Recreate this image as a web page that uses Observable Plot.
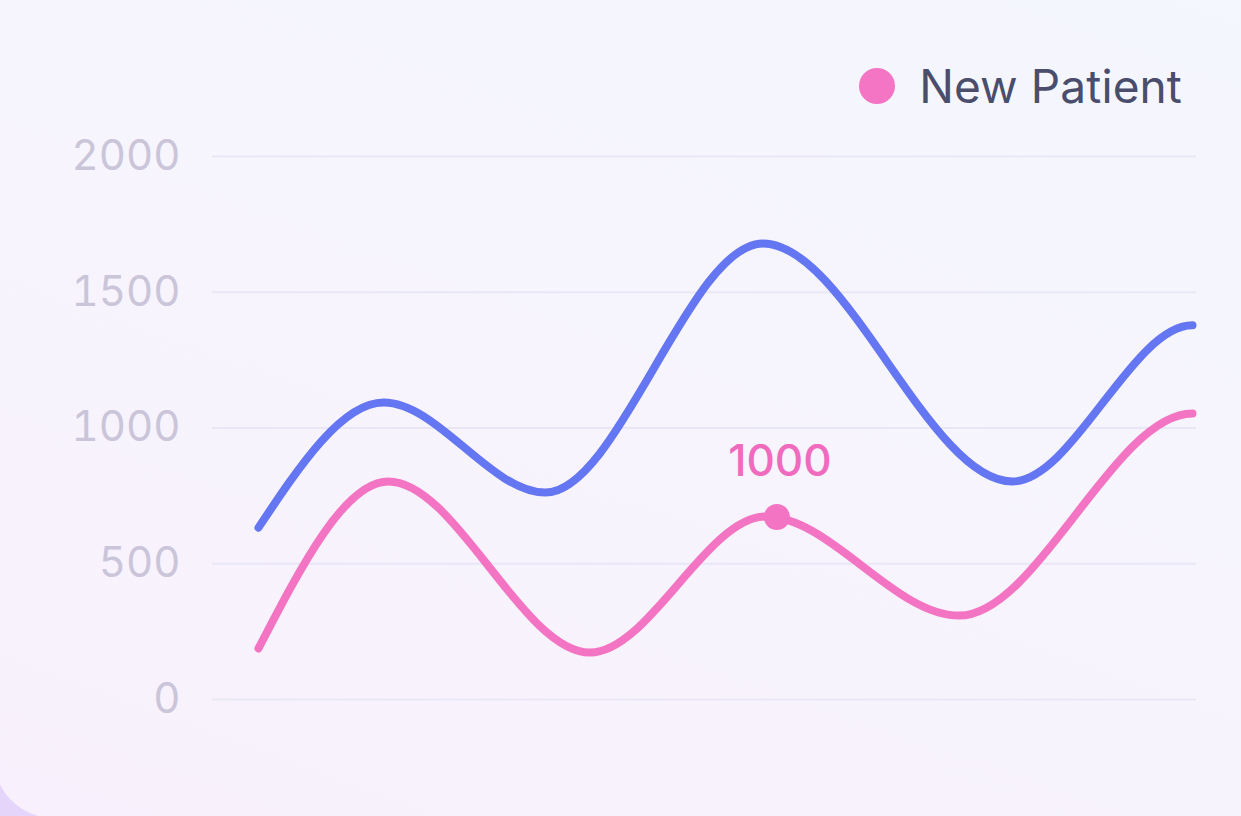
<!DOCTYPE html>
<html>
<head>
<meta charset="utf-8">
<script src="https://cdn.jsdelivr.net/npm/d3@7"></script>
<script src="https://cdn.jsdelivr.net/npm/@observablehq/plot@0.6"></script>
<style>
  html, body { margin: 0; padding: 0; width: 1241px; height: 816px; overflow: hidden; background: #e6d5fa; }
  #card {
    position: absolute; left: -6px; top: -60px; width: 1320px; height: 878px;
    border-radius: 60px;
    background: linear-gradient(20deg, #f8f1fd 0%, #f7f4fd 45%, #f4f7fd 100%);
    font-family: Inter, "Noto Sans", sans-serif;
  }
  #inner { position: absolute; left: 6px; top: 60px; width: 1241px; height: 816px; }
  #legendbar { position: relative; height: 120px; }
  #legend { position: absolute; top: 62px; right: 59px; height: 48px; display: flex; align-items: center; gap: 24px; }
  #legend .sw { width: 36px; height: 36px; border-radius: 50%; background: #f575c5; }
  #legend .lb { font-size: 46px; color: #4a4d6b; letter-spacing: 0.1px; }
  svg { display: block; }
</style>
</head>
<body>
<div id="card"><div id="inner">
  <div id="legendbar"><div id="legend"><div class="sw"></div><div class="lb">New Patient</div></div></div>
  <div id="chart"></div>
</div></div>
<script>
// Series (x is position along the timeline, 0–100)
const blueX = [0, 13.4, 30.7, 54.0, 80.7, 100];
const blueY = [633, 1094, 762, 1680, 803, 1378];
const pinkX = [0, 13.9, 35.5, 54.3, 75.0, 100];
const pinkY = [188, 803, 173, 674, 309, 1053];
const yTicks = [0, 500, 1000, 1500, 2000];
const highlightX = [55.5];
const highlightY = [672];
const highlightLabel = ["1000"];

const blue = blueX.map((x, i) => ({x, y: blueY[i]}));
const pink = pinkX.map((x, i) => ({x, y: pinkY[i]}));
const hl = highlightX.map((x, i) => ({x, y: highlightY[i], label: highlightLabel[i]}));

// Monotone-x style cubic curve whose final tangent is flat (as in the reference)
function curveMonotoneFlatEnd(context) { return new FlatEnd(context); }
function FlatEnd(context) { this._context = context; }
FlatEnd.prototype = {
  areaStart() { this._line = 0; },
  areaEnd() { this._line = NaN; },
  lineStart() { this._xs = []; this._ys = []; },
  point(x, y) { this._xs.push(+x); this._ys.push(+y); },
  lineEnd() {
    const xs = this._xs, ys = this._ys, n = xs.length, c = this._context;
    if (!n) return;
    c.moveTo(xs[0], ys[0]);
    if (n === 1) return;
    if (n === 2) { c.lineTo(xs[1], ys[1]); return; }
    const h = [], s = [];
    for (let i = 0; i < n - 1; i++) { h.push(xs[i + 1] - xs[i]); s.push((ys[i + 1] - ys[i]) / h[i]); }
    const t = new Array(n).fill(0);
    for (let i = 1; i < n - 1; i++) {
      const s0 = s[i - 1], s1 = s[i], p = (s0 * h[i] + s1 * h[i - 1]) / (h[i - 1] + h[i]);
      t[i] = (Math.sign(s0) + Math.sign(s1)) * Math.min(Math.abs(s0), Math.abs(s1), 0.5 * Math.abs(p)) || 0;
    }
    t[0] = (3 * s[0] - t[1]) / 2;
    t[n - 1] = 0;
    for (let i = 0; i < n - 1; i++) {
      const d = h[i] / 3;
      c.bezierCurveTo(xs[i] + d, ys[i] + d * t[i], xs[i + 1] - d, ys[i + 1] - d * t[i + 1], xs[i + 1], ys[i + 1]);
    }
  }
};

const chart = Plot.plot({
  width: 1241,
  height: 696,
  marginLeft: 212,
  marginRight: 45,
  marginTop: 36,
  marginBottom: 117,
  style: {background: "transparent", fontFamily: "Inter, 'Noto Sans', sans-serif"},
  x: {domain: [-4.925, 100.43], axis: null},
  y: {domain: [0, 2000], ticks: yTicks, label: null},
  marks: [
    Plot.ruleY(yTicks, {stroke: "#e9e7f6", strokeWidth: 2}),
    Plot.axisY({ticks: yTicks, label: null, tickSize: 0, tickPadding: 32, fontSize: 42, fill: "#cac5d9", tickFormat: d => String(d)}),
    Plot.line(blue, {x: "x", y: "y", curve: curveMonotoneFlatEnd, stroke: "#6576f2", strokeWidth: 8, strokeLinecap: "round"}),
    Plot.line(pink, {x: "x", y: "y", curve: curveMonotoneFlatEnd, stroke: "#f474c4", strokeWidth: 8, strokeLinecap: "round"}),
    Plot.dot(hl, {x: "x", y: "y", r: 13, fill: "#f474c4"}),
    Plot.text(hl, {x: "x", y: "y", text: "label", dy: -55, dx: 3, fontSize: 44, fontWeight: 500, fill: "#f06bbd"})
  ]
});
document.getElementById("chart").appendChild(chart);
</script>
</body>
</html>
